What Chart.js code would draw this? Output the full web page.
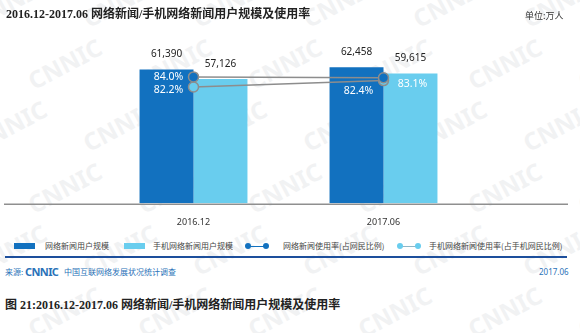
<!DOCTYPE html>
<html lang="zh-CN">

<head>
    <meta charset="UTF-8" />
    <title>网络新闻/手机网络新闻用户规模及使用率</title>
    <script src="https://cdn.jsdelivr.net/npm/chart.js@4"></script>
    <style>
        html, body {
            margin: 0;
            padding: 0;
            background: #fff;
        }

        .page {
            position: relative;
            width: 580px;
            height: 333px;
            overflow: hidden;
            font-family: "Noto Sans CJK SC", "Noto Sans", sans-serif;
        }

        .wm {
            position: absolute;
            font: bold 24px "Noto Sans", sans-serif;
            color: #f1f2f3;
            transform: rotate(-28deg);
            white-space: nowrap;
            z-index: 0;
        }

        #chart {
            position: absolute;
            left: 0;
            top: 0;
            z-index: 1;
        }

        .txt {
            position: absolute;
            white-space: nowrap;
            z-index: 2;
        }

        .title {
            font: bold 12px/14px "Liberation Serif", "Noto Sans CJK SC", serif;
            color: #222;
        }

        .legend-text {
            font-size: 8px;
            line-height: 10px;
            color: #444;
        }

        .swatch {
            position: absolute;
            width: 21px;
            height: 6px;
            z-index: 2;
        }

        .dot {
            position: absolute;
            width: 6px;
            height: 6px;
            border-radius: 50%;
            z-index: 3;
        }

        .stem {
            position: absolute;
            height: 1px;
            z-index: 2;
        }

        .source {
            font-size: 8px;
            line-height: 10px;
            color: #2a72b8;
        }
    </style>
</head>

<body>
    <div class="page" id="page">
        <canvas id="chart" width="580" height="240"></canvas>

        <div class="txt title" style="left:6px; top:7px;">2016.12-2017.06 网络新闻/手机网络新闻用户规模及使用率</div>
        <div class="txt" style="left:525px; top:10px; font-size:9px; line-height:11px; color:#333;">单位:万人</div>

        <!-- legend -->
        <div class="swatch" style="left:14px; top:243px; background:#1271bf;"></div>
        <div class="txt legend-text" style="left:45px; top:241px;">网络新闻用户规模</div>
        <div class="swatch" style="left:124px; top:243px; background:#69cdee;"></div>
        <div class="txt legend-text" style="left:153px; top:241px;">手机网络新闻用户规模</div>

        <div class="stem" style="left:248px; top:245.5px; width:18px; background:#1271bf;"></div>
        <div class="dot" style="left:245px; top:243px; background:#1271bf;"></div>
        <div class="dot" style="left:263px; top:243px; background:#1271bf;"></div>
        <div class="txt legend-text" style="left:283px; top:241px;">网络新闻使用率(占网民比例)</div>

        <div class="stem" style="left:400px; top:245.5px; width:18px; background:#8fb7c8;"></div>
        <div class="dot" style="left:397px; top:243px; background:#69cdee;"></div>
        <div class="dot" style="left:415px; top:243px; background:#69cdee;"></div>
        <div class="txt legend-text" style="left:429px; top:241px;">手机网络新闻使用率(占手机网民比例)</div>

        <div class="txt" style="left:5px; top:256px; width:562px; height:1.5px; background:#1d4f9c;"></div>

        <!-- source line -->
        <div class="txt source" style="left:5px; top:267px;">来源:</div>
        <div class="txt" style="left:25px; top:265px; font:bold 11px/13px 'Noto Sans', sans-serif; color:#2a72b8; letter-spacing:-0.6px;">CNNIC</div>
        <div class="txt source" style="left:64px; top:267px;">中国互联网络发展状况统计调查</div>
        <div class="txt source" style="left:539px; top:267px; font-family:'Noto Sans', sans-serif;">2017.06</div>

        <div class="txt title" style="left:5px; top:298px;">图 21:2016.12-2017.06 网络新闻/手机网络新闻用户规模及使用率</div>
    </div>

    <script>
        const categories = ["2016.12", "2017.06"];
        const newsUsers = [61390, 62458];
        const mobileNewsUsers = [57126, 59615];
        const newsRate = [84.0, 82.4];
        const mobileNewsRate = [82.2, 83.1];

        const DARK = "#1271bf";
        const LIGHT = "#69cdee";
        const LINE_GRAY = "#8d8d8d";

        // faint CNNIC watermark tiled behind everything
        (function () {
            const page = document.getElementById("page");
            for (let row = 0; row < 6; row++) {
                for (let col = 0; col < 6; col++) {
                    const s = document.createElement("span");
                    s.className = "wm";
                    s.textContent = "CNNIC";
                    s.style.left = (col * 110 - 30 + (row % 2) * 55) + "px";
                    s.style.top = (row * 62 - 15) + "px";
                    page.appendChild(s);
                }
            }
        })();

        // value labels above bars, rate labels next to the points
        const valueLabels = {
            id: "valueLabels",
            afterDatasetsDraw(chart, args, opts) {
                const ctx = chart.ctx;
                ctx.save();
                ctx.textAlign = "center";
                ctx.textBaseline = "middle";
                chart.data.datasets.forEach((ds, i) => {
                    const meta = chart.getDatasetMeta(i);
                    meta.data.forEach((el, j) => {
                        const v = ds.data[j];
                        if (ds.type === "line") {
                            const off = opts.rateOffsets[i][j];
                            ctx.fillStyle = "#fff";
                            ctx.font = "10.5px 'Noto Sans', sans-serif";
                            ctx.fillText(v.toFixed(1) + "%", el.x + off[0], el.y + off[1]);
                        } else {
                            ctx.fillStyle = "#222";
                            ctx.font = "10px 'Noto Sans', sans-serif";
                            ctx.fillText(v.toLocaleString("en-US"), el.x, el.y - 15);
                        }
                    });
                });
                ctx.restore();
            },
        };

        // long baseline under the bars
        const baseLine = {
            id: "baseLine",
            beforeDatasetsDraw(chart) {
                const ctx = chart.ctx;
                const y = chart.chartArea.bottom + 1;
                ctx.save();
                ctx.strokeStyle = "#8f8f8f";
                ctx.lineWidth = 1.5;
                ctx.beginPath();
                ctx.moveTo(4, y);
                ctx.lineTo(568, y);
                ctx.stroke();
                ctx.restore();
            },
        };

        new Chart(document.getElementById("chart"), {
            data: {
                labels: categories,
                datasets: [
                    {
                        type: "bar",
                        label: "网络新闻用户规模",
                        data: newsUsers,
                        backgroundColor: DARK,
                        yAxisID: "y",
                        order: 3,
                    },
                    {
                        type: "bar",
                        label: "手机网络新闻用户规模",
                        data: mobileNewsUsers,
                        backgroundColor: LIGHT,
                        yAxisID: "y",
                        order: 3,
                    },
                    {
                        type: "line",
                        label: "网络新闻使用率(占网民比例)",
                        data: newsRate,
                        yAxisID: "yRate",
                        borderColor: LINE_GRAY,
                        borderWidth: 1.5,
                        pointRadius: 5,
                        pointBorderWidth: 1.5,
                        pointBackgroundColor: DARK,
                        pointBorderColor: LINE_GRAY,
                        order: 1,
                    },
                    {
                        type: "line",
                        label: "手机网络新闻使用率(占手机网民比例)",
                        data: mobileNewsRate,
                        yAxisID: "yMobileRate",
                        borderColor: LINE_GRAY,
                        borderWidth: 1.5,
                        pointRadius: 5,
                        pointBorderWidth: 1.5,
                        pointBackgroundColor: LIGHT,
                        pointBorderColor: LINE_GRAY,
                        order: 2,
                    },
                ],
            },
            options: {
                responsive: false,
                animation: false,
                layout: {
                    padding: { left: 98.5, right: 101.5, top: 40, bottom: 6 },
                },
                datasets: {
                    bar: {
                        categoryPercentage: 0.568,
                        barPercentage: 1.0,
                    },
                },
                scales: {
                    x: {
                        offset: true,
                        grid: { display: false },
                        border: { display: false },
                        ticks: {
                            color: "#333",
                            padding: 6,
                            font: { size: 9, family: "'Noto Sans', sans-serif" },
                        },
                    },
                    y: { display: false, min: 0, max: 75000 },
                    yRate: { display: false, min: -135.2, max: 148 },
                    yMobileRate: { display: false, min: 66.0, max: 88.76 },
                },
                plugins: {
                    legend: { display: false },
                    tooltip: { enabled: false },
                    valueLabels: {
                        rateOffsets: {
                            2: [[-25, 0], [-25, 13]],
                            3: [[-25, 3], [29, 3]],
                        },
                    },
                },
            },
            plugins: [baseLine, valueLabels],
        });
    </script>
</body>

</html>
